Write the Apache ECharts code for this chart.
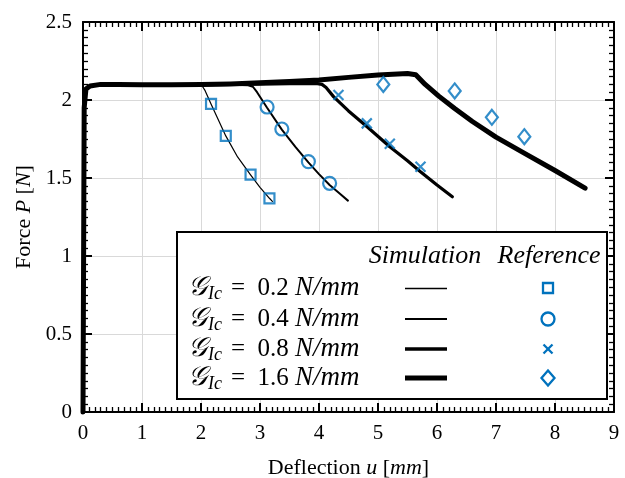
<!DOCTYPE html>
<html>
<head>
<meta charset="utf-8">
<script src="https://cdn.jsdelivr.net/npm/echarts@6/dist/echarts.min.js"></script>
<style>
  html, body { margin: 0; padding: 0; background: #fff; }
  #chart { width: 625px; height: 478px; }
</style>
</head>
<body>
<div id="chart"></div>
<script>
// Force–deflection response for four fracture toughness values.
// Simulation curves: [deflection u (mm), force P (N)]
const sim02 = [[0,0],[0.02,1.95],[0.05,2.07],[0.12,2.09],[0.3,2.1],[0.6,2.1],[1,2.097],[1.5,2.095],[1.95,2.095],
  [2.02,2.09],[2.07,2.06],[2.17,1.975],[2.42,1.77],[2.62,1.635],[2.84,1.52],[3.0,1.44],[3.16,1.37],[3.21,1.35]];
const sim04 = [[0,0],[0.02,1.95],[0.05,2.07],[0.12,2.09],[0.3,2.1],[0.6,2.1],[1,2.097],[1.5,2.095],[2,2.095],
  [2.5,2.097],[2.8,2.095],[2.88,2.085],[2.95,2.05],[3.12,1.95],[3.37,1.81],[3.6,1.70],[3.82,1.6],[4.0,1.525],
  [4.18,1.455],[4.35,1.40],[4.49,1.355]];
const sim08 = [[0,0],[0.02,1.95],[0.05,2.07],[0.12,2.09],[0.3,2.1],[0.6,2.1],[1,2.097],[1.5,2.095],[2,2.097],
  [2.5,2.1],[3,2.102],[3.5,2.105],[3.95,2.107],[4.05,2.1],[4.12,2.08],[4.25,2.02],[4.5,1.93],[4.81,1.83],
  [5.2,1.70],[5.5,1.61],[5.72,1.54],[6.0,1.455],[6.26,1.38]];
const sim16 = [[0,0],[0.02,1.95],[0.05,2.07],[0.12,2.09],[0.3,2.1],[0.6,2.1],[1,2.097],[1.5,2.097],[2,2.1],
  [2.5,2.103],[3,2.11],[3.5,2.118],[4,2.128],[4.5,2.145],[5,2.16],[5.5,2.17],[5.64,2.162],[5.8,2.1],
  [6.03,2.025],[6.3,1.945],[6.6,1.862],[7.0,1.762],[7.5,1.655],[8.0,1.548],[8.51,1.435]];

// Reference results
const ref02 = [[2.17,1.975],[2.42,1.77],[2.84,1.522],[3.16,1.37]];
const ref04 = [[3.12,1.955],[3.37,1.814],[3.82,1.605],[4.18,1.466]];
const ref08 = [[4.33,2.032],[4.81,1.85],[5.2,1.72],[5.72,1.572]];
const ref16 = [[5.09,2.10],[6.3,2.058],[6.93,1.889],[7.48,1.765]];

// Axis ticks
const xTicks = [0, 1, 2, 3, 4, 5, 6, 7, 8, 9];
const yTicks = [0, 0.5, 1, 1.5, 2, 2.5];

const toughness = ['0.2', '0.4', '0.8', '1.6'];

const BLUE = '#0072BD';
const SERIF = 'Liberation Serif, Times New Roman, serif';
const lineWidths = [1.2, 2, 3.2, 5];
const CROSS = 'path://M0,0L10,10M10,0L0,10';

const chart = echarts.init(document.getElementById('chart'), null, { renderer: 'canvas' });

const gridLeft = 83, gridRight = 11, gridTop = 22, gridBottom = 66;

const axisTextRich = {
  r: { fontFamily: SERIF, fontSize: 22, color: '#000' },
  i: { fontFamily: SERIF, fontSize: 22, fontStyle: 'italic', color: '#000' }
};

function tickStyles() {
  return {
    axisLine: { show: true, onZero: false, lineStyle: { color: '#000', width: 2 } },
    axisTick: { show: true, inside: true, length: 9, lineStyle: { color: '#000', width: 2 } },
    minorTick: { show: true, splitNumber: 10, length: 5, lineStyle: { color: '#000', width: 1.3 } }
  };
}

function mainAxis(ticks) {
  return Object.assign({
    type: 'value',
    min: ticks[0],
    max: ticks[ticks.length - 1],
    interval: ticks[1] - ticks[0],
    splitLine: { show: true, lineStyle: { color: '#d9d9d9', width: 1 } },
    axisLabel: {
      show: true, color: '#000', fontFamily: SERIF, fontSize: 21,
      formatter: v => String(v)
    }
  }, tickStyles());
}

function mirrorAxis(ticks, position) {
  return Object.assign({
    type: 'value',
    position: position,
    min: ticks[0],
    max: ticks[ticks.length - 1],
    interval: ticks[1] - ticks[0],
    splitLine: { show: false },
    axisLabel: { show: false }
  }, tickStyles());
}

const xMain = mainAxis(xTicks);
Object.assign(xMain, {
  position: 'bottom',
  name: '{r|Deflection }{i|u}{r| [}{i|mm}{r|]}',
  nameLocation: 'middle',
  nameGap: 45,
  nameTextStyle: { rich: axisTextRich }
});
xMain.axisLabel.margin = 11;

const yMain = mainAxis(yTicks);
Object.assign(yMain, {
  position: 'left',
  name: '{r|Force }{i|P}{r| [}{i|N}{r|]}',
  nameLocation: 'middle',
  nameGap: 47,
  nameRotate: 90,
  nameTextStyle: { rich: axisTextRich }
});
yMain.axisLabel.margin = 11;

const simSets = [sim02, sim04, sim08, sim16];
const refSets = [ref02, ref04, ref08, ref16];
const refSymbols = ['rect', 'circle', CROSS, 'diamond'];
const refSizes = [[10, 10], [13, 13], [10, 10], [12, 15]];

const series = [];
simSets.forEach((d, k) => {
  series.push({
    name: 'sim ' + toughness[k],
    type: 'line',
    data: d,
    xAxisIndex: 0, yAxisIndex: 0,
    showSymbol: false,
    symbol: 'none',
    smooth: false,
    clip: false,
    z: 3 + k,
    lineStyle: { color: '#000', width: lineWidths[k], cap: 'round', join: 'round' }
  });
});
refSets.forEach((d, k) => {
  series.push({
    name: 'ref ' + toughness[k],
    type: 'scatter',
    data: d,
    xAxisIndex: 0, yAxisIndex: 0,
    symbol: refSymbols[k],
    symbolSize: refSizes[k],
    z: 10,
    itemStyle: { color: 'rgba(0,0,0,0)', borderColor: BLUE, borderWidth: 2.2 }
  });
});

// Legend panel: two columns (simulation line, reference marker)
const box = { x: 177, y: 232, w: 430, h: 167 };
const colLine = [405, 447];
const colMark = 548;
const rowY = [288, 319, 349, 378];

const legendRich = {
  g: { fontFamily: 'DejaVu Serif, serif', fontSize: 27, fontStyle: 'italic', fill: '#000' },
  sub: { fontFamily: SERIF, fontSize: 18, fontStyle: 'italic', fill: '#000', padding: [12, 9, 0, 1] },
  r: { fontFamily: SERIF, fontSize: 25, fill: '#000' },
  i: { fontFamily: SERIF, fontSize: 27, fontStyle: 'italic', fill: '#000' }
};

const graphics = [
  {
    type: 'rect', z: 50,
    shape: { x: box.x, y: box.y, width: box.w, height: box.h },
    style: { fill: '#fff', stroke: '#000', lineWidth: 2 }
  },
  {
    type: 'text', z: 51, x: 425, y: 256,
    style: { text: 'Simulation', font: 'italic 26px ' + SERIF, fill: '#000', textAlign: 'center', textVerticalAlign: 'middle' }
  },
  {
    type: 'text', z: 51, x: 549, y: 256,
    style: { text: 'Reference', font: 'italic 26px ' + SERIF, fill: '#000', textAlign: 'center', textVerticalAlign: 'middle' }
  }
];

const sampleWidths = [1.3, 2.2, 3.5, 5];
toughness.forEach((t, k) => {
  const cy = rowY[k];
  graphics.push({
    type: 'text', z: 51, x: 188, y: cy,
    style: {
      text: '{g|𝒢}{sub|Ic}{r|=  ' + t + ' }{i|N/mm}',
      rich: legendRich,
      textAlign: 'left', textVerticalAlign: 'middle'
    }
  });
  const yy = sampleWidths[k] < 1.5 ? cy + 0.5 : cy;
  graphics.push({
    type: 'line', z: 51,
    shape: { x1: colLine[0], y1: yy, x2: colLine[1], y2: yy },
    style: { stroke: '#000', lineWidth: sampleWidths[k] }
  });
});

// Legend markers
const mk = { stroke: BLUE, fill: 'none', lineWidth: 2.3 };
graphics.push({ type: 'rect', z: 51, shape: { x: colMark - 5, y: rowY[0] - 5, width: 10, height: 10 }, style: mk });
graphics.push({ type: 'circle', z: 51, shape: { cx: colMark, cy: rowY[1], r: 6.5 }, style: mk });
graphics.push({ type: 'polyline', z: 51, shape: { points: [[colMark - 4.5, rowY[2] - 4.5], [colMark + 4.5, rowY[2] + 4.5]] }, style: mk });
graphics.push({ type: 'polyline', z: 51, shape: { points: [[colMark + 4.5, rowY[2] - 4.5], [colMark - 4.5, rowY[2] + 4.5]] }, style: mk });
graphics.push({ type: 'polygon', z: 51, shape: { points: [[colMark, rowY[3] - 7.5], [colMark + 6.5, rowY[3]], [colMark, rowY[3] + 7.5], [colMark - 6.5, rowY[3]]] }, style: mk });

chart.setOption({
  backgroundColor: '#fff',
  animation: false,
  grid: {
    left: gridLeft, right: gridRight, top: gridTop, bottom: gridBottom,
    containLabel: false, outerBoundsMode: 'none'
  },
  xAxis: [xMain, mirrorAxis(xTicks, 'top')],
  yAxis: [yMain, mirrorAxis(yTicks, 'right')],
  series: series,
  graphic: graphics
});
</script>
</body>
</html>
